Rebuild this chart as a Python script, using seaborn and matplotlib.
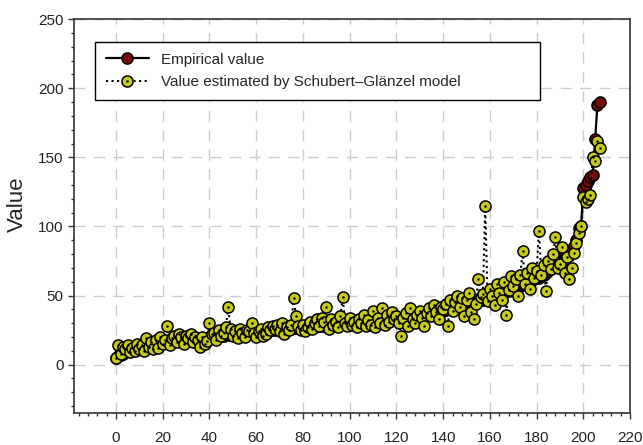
import numpy as np
import matplotlib
matplotlib.use('Agg')
import matplotlib.pyplot as plt
from matplotlib.ticker import MultipleLocator
from matplotlib.legend_handler import HandlerTuple
import seaborn as sns

# ranks 0..207, empirical values sorted ascending
empirical = [
    5, 6, 7, 8, 9, 9.5, 10, 10.5, 11, 11.5,
    12, 12.5, 13, 13.5, 14, 14, 14.5, 15, 15, 15.5,
    16, 16, 16.5, 16.5, 17, 17, 17, 17.5, 17.5, 18,
    18, 18, 18.5, 18.5, 18.5, 19, 19, 19, 19.5, 19.5,
    20, 20, 20.5, 20.5, 21, 21, 21, 21.5, 21.5, 22,
    22, 22, 22.5, 22.5, 22.5, 23, 23, 23, 23.5, 23.5,
    24, 24, 24, 24.5, 24.5, 24.5, 25, 25, 25, 25.5,
    25.5, 25.5, 26, 26, 26, 26, 26.5, 26.5, 26.5, 27,
    27, 27, 27, 27.5, 27.5, 27.5, 28, 28, 28, 28,
    28.5, 28.5, 28.5, 29, 29, 29, 29, 29.5, 29.5, 29.5,
    30, 30, 30, 30.5, 30.5, 30.5, 31, 31, 31, 31.5,
    31.5, 32, 32, 32, 32.5, 32.5, 33, 33, 33, 33.5,
    33.5, 34, 34, 34, 34.5, 34.5, 35, 35, 35.5, 35.5,
    36, 36, 36.5, 36.5, 37, 37, 37.5, 38, 38, 38.5,
    39, 39.5, 40, 40, 40.5, 41, 41.5, 42, 42.5, 43,
    43.5, 44, 44.5, 45, 45.5, 46, 46.5, 47, 47.5, 48,
    48.5, 49, 49.5, 50, 51, 51.5, 52, 53, 53.5, 54,
    55, 55.5, 56, 57, 57.5, 58, 59, 60, 61, 62,
    62.5, 63, 64, 65, 66, 68, 70, 71, 73, 74,
    76, 78, 79, 80, 82, 84, 86, 90, 99, 100,
    128, 130, 133, 136, 137, 163, 188, 190,
]

# Schubert-Glanzel estimates for the same ranks
estimated = [
    5, 14, 8, 13, 11, 14, 9, 12, 10, 15,
    11, 14, 10, 19, 13, 16, 11, 18, 12, 20,
    15, 18, 28, 14, 19, 21, 16, 22, 20, 15,
    21, 19, 22, 16, 20, 18, 13, 20, 15, 17,
    30, 22, 23, 18, 25, 21, 23, 27, 42, 26,
    21, 24, 19, 26, 23, 20, 25, 24, 30, 23,
    20, 24, 26, 21, 22, 27, 25, 28, 26, 29,
    24, 30, 22, 27, 25, 29, 48, 35, 28, 25,
    29, 24, 27, 31, 26, 30, 33, 28, 34, 31,
    42, 26, 33, 29, 31, 27, 35, 49, 30, 28,
    34, 29, 31, 27, 33, 30, 36, 28, 32, 29,
    39, 27, 34, 30, 41, 29, 36, 31, 38, 33,
    35, 30, 21, 34, 37, 28, 41, 33, 30, 36,
    39, 34, 28, 37, 41, 35, 43, 38, 33, 42,
    40, 44, 28, 47, 39, 45, 50, 42, 48, 35,
    47, 52, 38, 33, 44, 62, 49, 51, 115, 46,
    55, 50, 43, 58, 52, 47, 60, 36, 54, 64,
    57, 62, 50, 65, 82, 58, 66, 55, 70, 63,
    68, 97, 65, 72, 53, 75, 69, 80, 92, 70,
    73, 85, 66, 78, 62, 70, 81, 88, 95, 100,
    121, 118, 120, 123, 150, 147, 162, 157,
]

ranks = list(range(len(empirical)))

sns.set_style('ticks')
plt.rcParams['font.family'] = ['Liberation Sans', 'DejaVu Sans']

fig = plt.figure(figsize=(6.43, 4.45), dpi=100)
ax = fig.add_axes([0.115, 0.072, 0.865, 0.885])

sns.lineplot(x=ranks, y=empirical, ax=ax, color='black', linewidth=1.6, errorbar=None,
             marker='o', markersize=8, markerfacecolor='#7a0a0a',
             markeredgecolor='black', markeredgewidth=1.1, zorder=3)
sns.lineplot(x=ranks, y=estimated, ax=ax, color='black', linewidth=1.5, linestyle=':',
             errorbar=None, marker='o', markersize=8, markerfacecolor='#c6ca18',
             markeredgecolor='black', markeredgewidth=1.1, zorder=4)
sns.lineplot(x=ranks, y=estimated, ax=ax, color='black', linestyle='none', errorbar=None,
             marker='o', markersize=1.8, markeredgewidth=0, zorder=5)

emp_line, est_line, dot_line = ax.lines[0], ax.lines[1], ax.lines[2]

ax.set_xlim(-18, 220)
ax.set_ylim(-35, 250)
ax.xaxis.set_major_locator(MultipleLocator(20))
ax.xaxis.set_minor_locator(MultipleLocator(4))
ax.yaxis.set_major_locator(MultipleLocator(50))
ax.yaxis.set_minor_locator(MultipleLocator(10))
ax.tick_params(axis='both', which='major', labelsize=11, length=4, width=1, color='#333333',
               labelcolor='#222222')
ax.tick_params(axis='both', which='minor', length=2.5, width=1, color='#333333')
ax.tick_params(axis='x', which='major', pad=9)
ax.grid(True, which='major', color='#cccccc', linewidth=1, linestyle=(0, (8, 6)))
ax.set_axisbelow(True)
for sp in ax.spines.values():
    sp.set_visible(True)
    sp.set_color('#333333')
    sp.set_linewidth(1.2)

ax.set_xlabel('')
ax.set_ylabel('Value', fontsize=16)
ax.yaxis.set_label_coords(-0.083, 0.53)

leg = ax.legend([emp_line, (est_line, dot_line)],
                ['Empirical value', 'Value estimated by Schubert\u2013Gl\u00e4nzel model'],
                handler_map={tuple: HandlerTuple(ndivide=1)}, numpoints=1,
                loc='upper left', bbox_to_anchor=(0.038, 0.76, 0.80, 0.182), mode='expand',
                borderaxespad=0, fontsize=11, handlelength=2.8, labelspacing=0.55,
                borderpad=0.7, handletextpad=0.8, fancybox=False, framealpha=1,
                edgecolor='black')
leg.get_frame().set_linewidth(1.0)

fig.savefig('out.png', dpi=100)
